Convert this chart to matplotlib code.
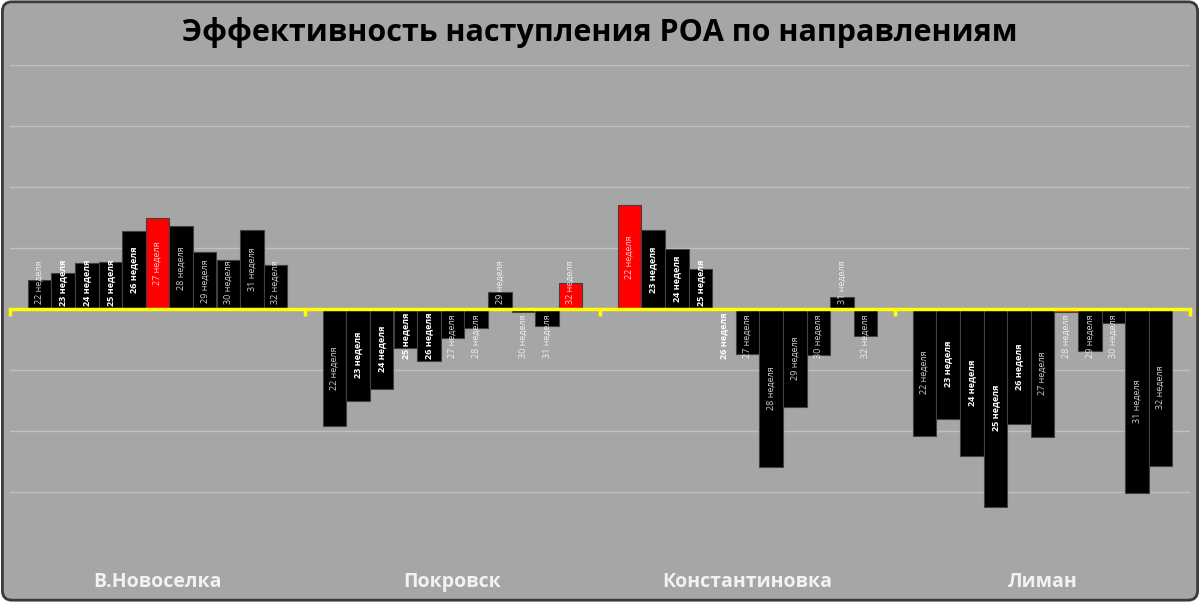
import numpy as np
import matplotlib.pyplot as plt
from matplotlib.patches import FancyBboxPatch
import matplotlib.transforms as mtransforms

plt.rcParams['font.family'] = ['Open Sans', 'DejaVu Sans']

# data (units = one grid step)
weeks = ['22 неделя', '23 неделя', '24 неделя', '25 неделя', '26 неделя', '27 неделя',
         '28 неделя', '29 неделя', '30 неделя', '31 неделя', '32 неделя']
directions = ['В.Новоселка', 'Покровск', 'Константиновка', 'Лиман']
novoselka = [0.48, 0.59, 0.76, 0.78, 1.28, 1.50, 1.36, 0.93, 0.80, 1.30, 0.72]
pokrovsk = [-1.92, -1.50, -1.30, -0.64, -0.84, -0.47, -0.31, 0.28, -0.05, -0.27, 0.43]
konstantinovka = [1.70, 1.29, 0.99, 0.66, 0.0, -0.73, -2.59, -1.60, -0.75, 0.20, -0.43]
liman = [-2.07, -1.80, -2.40, -3.24, -1.88, -2.10, -0.05, -0.68, -0.23, -3.01, -2.56]
highlight = ['27 неделя', '32 неделя', '22 неделя', '28 неделя']
bold_weeks = ['23 неделя', '24 неделя', '25 неделя', '26 неделя']

series = [novoselka, pokrovsk, konstantinovka, liman]

W, H = 1200, 602
fig = plt.figure(figsize=(W / 100, H / 100), dpi=100, facecolor='white')
bg = FancyBboxPatch((0.002, 0.003), 0.996, 0.994, boxstyle='round,pad=0,rounding_size=0.008',
                    transform=fig.transFigure, facecolor='#a6a6a6', edgecolor='#3a3a3a',
                    linewidth=2, zorder=-10, mutation_aspect=W / H)
fig.patches.append(bg)

ax = fig.add_axes([10 / W, (H - 553.5) / H, 1180 / W, 488.5 / H])
ax.set_facecolor('none')
ax.set_xlim(-0.5, 3.5)
ax.set_ylim(-4, 4)

n = len(weeks)
bw = 0.08
for g, vals in enumerate(series):
    xs = g - bw * n / 2 + bw * (np.arange(n) + 0.5)
    colors = ['#ff0000' if weeks[i] == highlight[g] else '#000000' for i in range(n)]
    ax.bar(xs, vals, width=bw, color=colors, edgecolor='#404040', linewidth=0.8, zorder=2)
    for i, v in enumerate(vals):
        sgn = 1 if v > 0 else -1
        yc = sgn * max(abs(v) / 2, 0.44)
        bold = weeks[i] in bold_weeks
        ax.text(xs[i], yc, weeks[i], rotation=90, ha='center', va='center',
                fontsize=6.5, color='white', alpha=1.0 if bold else 0.8,
                fontweight='bold' if bold else 'normal', zorder=4)

# grid
ax.set_yticks(np.arange(-4, 5))
ax.yaxis.grid(True, color='#c0c0c0', linewidth=1)
ax.set_axisbelow(True)
ax.tick_params(axis='y', length=0, labelleft=False)
for s in ['top', 'left', 'right']:
    ax.spines[s].set_visible(False)

# yellow category axis at zero
ax.spines['bottom'].set_position(('data', 0))
ax.spines['bottom'].set_color('#ffff00')
ax.spines['bottom'].set_linewidth(2.5)
ax.spines['bottom'].set_zorder(3)
ax.set_xticks(np.arange(-0.5, 4, 1))
ax.tick_params(axis='x', length=5, width=2.5, color='#ffff00', direction='out', labelbottom=False)

trans = mtransforms.blended_transform_factory(ax.transData, fig.transFigure)
for g, name in enumerate(directions):
    ax.text(g, (H - 582) / H, name, transform=trans, ha='center', va='center',
            fontsize=14, fontweight='bold', color='#f2f2f2')

fig.text(0.5, 1 - 32 / H, 'Эффективность наступления РОА по направлениям',
         ha='center', va='center', fontsize=22, fontweight='bold', color='black')

fig.savefig('out.png', dpi=100, facecolor='white')
